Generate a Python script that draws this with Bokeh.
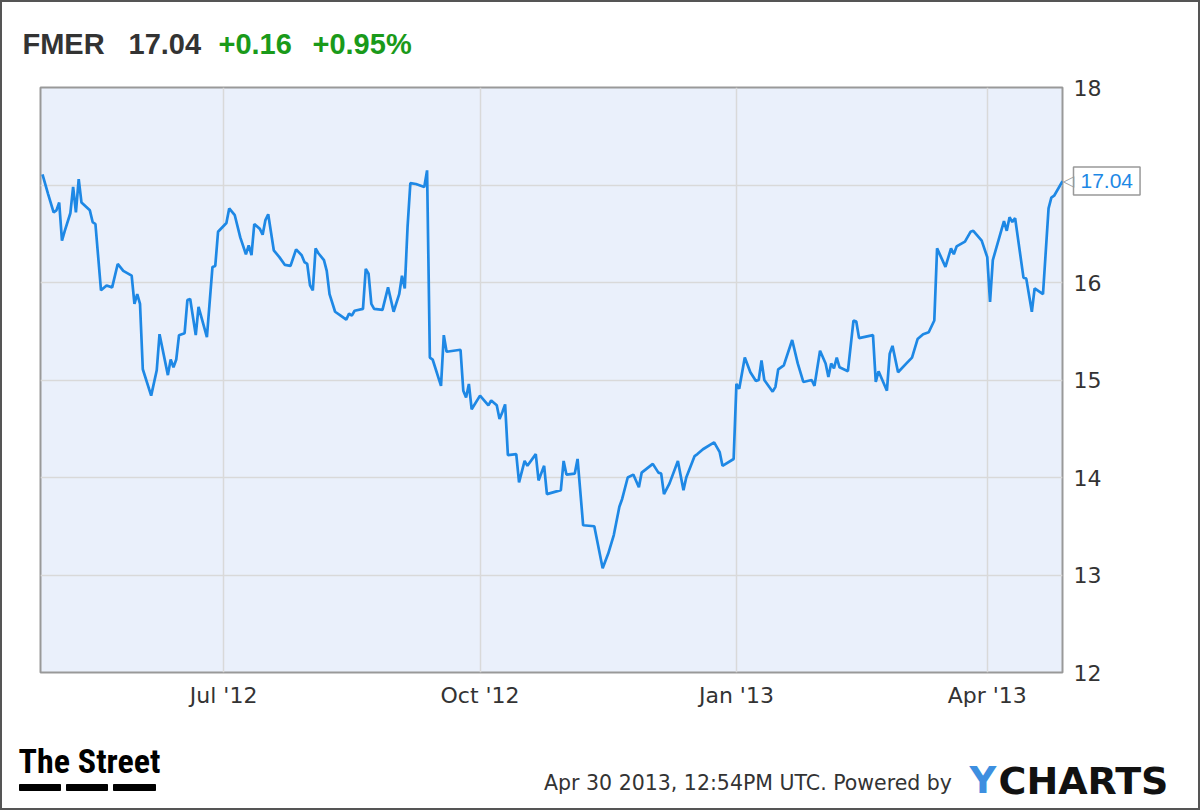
from datetime import timedelta
import pandas as pd
from bokeh.plotting import figure
from bokeh.layouts import column
from bokeh.core.properties import value
from bokeh.models import (Range1d, Label, MonthsTicker, DatetimeTickFormatter, FixedTicker)
from bokeh.embed import file_html
from bokeh.resources import INLINE

# ---------------- data ----------------
ticker = "FMER"
last_price_text = "17.04"
change_text = "+0.16"
change_pct_text = "+0.95%"
timestamp_text = "Apr 30 2013, 12:54PM UTC.  Powered by"

dates = [
    "2012-04-27", "2012-04-29", "2012-05-01", "2012-05-02", "2012-05-03", "2012-05-04",
    "2012-05-05", "2012-05-07", "2012-05-08", "2012-05-09", "2012-05-10", "2012-05-11",
    "2012-05-14", "2012-05-15", "2012-05-16", "2012-05-18", "2012-05-20", "2012-05-22",
    "2012-05-24", "2012-05-26", "2012-05-29", "2012-05-30", "2012-05-31", "2012-06-01",
    "2012-06-02", "2012-06-05", "2012-06-07", "2012-06-08", "2012-06-11", "2012-06-12",
    "2012-06-13", "2012-06-14", "2012-06-15", "2012-06-17", "2012-06-18", "2012-06-19",
    "2012-06-21", "2012-06-22", "2012-06-25", "2012-06-27", "2012-06-28", "2012-06-29",
    "2012-07-02", "2012-07-03", "2012-07-05", "2012-07-07", "2012-07-09", "2012-07-10",
    "2012-07-11", "2012-07-12", "2012-07-14", "2012-07-15", "2012-07-16", "2012-07-17",
    "2012-07-19", "2012-07-21", "2012-07-23", "2012-07-25", "2012-07-27", "2012-07-29",
    "2012-07-30", "2012-07-31", "2012-08-01", "2012-08-02", "2012-08-03", "2012-08-04",
    "2012-08-06", "2012-08-07", "2012-08-08", "2012-08-10", "2012-08-12", "2012-08-14",
    "2012-08-15", "2012-08-16", "2012-08-17", "2012-08-20", "2012-08-21", "2012-08-22",
    "2012-08-23", "2012-08-24", "2012-08-27", "2012-08-29", "2012-08-31", "2012-09-02",
    "2012-09-03", "2012-09-04", "2012-09-05", "2012-09-06", "2012-09-08", "2012-09-11",
    "2012-09-12", "2012-09-13", "2012-09-14", "2012-09-17", "2012-09-18", "2012-09-19",
    "2012-09-24", "2012-09-25", "2012-09-26", "2012-09-27", "2012-09-28", "2012-10-01",
    "2012-10-04", "2012-10-05", "2012-10-07", "2012-10-08", "2012-10-09", "2012-10-10",
    "2012-10-11", "2012-10-14", "2012-10-15", "2012-10-17", "2012-10-18", "2012-10-21",
    "2012-10-22", "2012-10-24", "2012-10-25", "2012-10-30", "2012-10-31", "2012-11-01",
    "2012-11-04", "2012-11-05", "2012-11-07", "2012-11-11", "2012-11-14", "2012-11-16",
    "2012-11-18", "2012-11-20", "2012-11-21", "2012-11-23", "2012-11-25", "2012-11-27",
    "2012-11-28", "2012-12-02", "2012-12-04", "2012-12-05", "2012-12-06", "2012-12-08",
    "2012-12-11", "2012-12-13", "2012-12-14", "2012-12-17", "2012-12-18", "2012-12-20",
    "2012-12-24", "2012-12-26", "2012-12-27", "2012-12-31", "2013-01-01", "2013-01-02",
    "2013-01-04", "2013-01-06", "2013-01-08", "2013-01-09", "2013-01-10", "2013-01-11",
    "2013-01-14", "2013-01-15", "2013-01-16", "2013-01-18", "2013-01-21", "2013-01-23",
    "2013-01-25", "2013-01-28", "2013-01-29", "2013-01-31", "2013-02-02", "2013-02-03",
    "2013-02-04", "2013-02-05", "2013-02-06", "2013-02-07", "2013-02-10", "2013-02-12",
    "2013-02-13", "2013-02-14", "2013-02-19", "2013-02-20", "2013-02-21", "2013-02-24",
    "2013-02-25", "2013-02-26", "2013-02-28", "2013-03-03", "2013-03-05", "2013-03-07",
    "2013-03-09", "2013-03-11", "2013-03-13", "2013-03-14", "2013-03-17", "2013-03-19",
    "2013-03-20", "2013-03-21", "2013-03-24", "2013-03-26", "2013-03-27", "2013-03-30",
    "2013-04-01", "2013-04-02", "2013-04-03", "2013-04-07", "2013-04-08", "2013-04-09",
    "2013-04-10", "2013-04-11", "2013-04-14", "2013-04-15", "2013-04-17", "2013-04-18",
    "2013-04-21", "2013-04-23", "2013-04-24", "2013-04-25", "2013-04-28",
]

prices = [
    17.11, 16.91, 16.72, 16.74, 16.82, 16.43,
    16.53, 16.71, 16.98, 16.72, 17.06, 16.82,
    16.74, 16.62, 16.60, 15.92, 15.97, 15.95,
    16.19, 16.12, 16.07, 15.78, 15.88, 15.78,
    15.11, 14.84, 15.10, 15.47, 15.05, 15.21,
    15.13, 15.21, 15.46, 15.48, 15.82, 15.83,
    15.46, 15.75, 15.44, 16.16, 16.17, 16.52,
    16.61, 16.76, 16.69, 16.46, 16.29, 16.38,
    16.28, 16.60, 16.55, 16.49, 16.64, 16.70,
    16.33, 16.26, 16.18, 16.17, 16.34, 16.28,
    16.21, 16.19, 15.97, 15.92, 16.35, 16.30,
    16.23, 16.12, 15.88, 15.70, 15.66, 15.62,
    15.68, 15.66, 15.71, 15.73, 16.14, 16.09,
    15.78, 15.73, 15.72, 15.95, 15.70, 15.88,
    16.07, 15.94, 16.57, 17.02, 17.01, 16.98,
    17.15, 15.23, 15.21, 14.94, 15.46, 15.29,
    15.31, 14.89, 14.82, 14.96, 14.70, 14.84,
    14.74, 14.79, 14.74, 14.60, 14.67, 14.75,
    14.23, 14.24, 13.95, 14.17, 14.12, 14.24,
    13.97, 14.12, 13.83, 13.87, 14.17, 14.03,
    14.04, 14.19, 13.51, 13.50, 13.07, 13.22,
    13.41, 13.70, 13.78, 14.00, 14.03, 13.90,
    14.05, 14.14, 14.05, 14.04, 13.83, 13.94,
    14.17, 13.87, 14.00, 14.22, 14.24, 14.29,
    14.36, 14.26, 14.12, 14.19, 14.96, 14.91,
    15.23, 15.08, 14.99, 15.00, 15.20, 15.00,
    14.88, 14.93, 15.11, 15.15, 15.41, 15.17,
    14.98, 15.00, 14.94, 15.30, 15.17, 15.03,
    15.17, 15.12, 15.23, 15.13, 15.09, 15.61,
    15.60, 15.43, 15.46, 14.98, 15.09, 14.89,
    15.27, 15.35, 15.08, 15.17, 15.23, 15.42,
    15.47, 15.49, 15.61, 16.35, 16.16, 16.35,
    16.29, 16.37, 16.42, 16.52, 16.53, 16.43,
    16.26, 15.80, 16.23, 16.63, 16.53, 16.67,
    16.62, 16.66, 16.05, 16.04, 15.70, 15.94,
    15.88, 16.76, 16.87, 16.89, 17.04,
]

y_ticks = [12, 13, 14, 15, 16, 17, 18]
quarter_months = [0, 3, 6, 9]  # Jan, Apr, Jul, Oct (0-based)

# ---------------- styling constants ----------------
LINE_COLOR = "#1e88e5"
FRAME_FILL = "#eaf0fb"
GRID_COLOR = "#d9d9d9"
GREEN = "#1a9a1a"
DARK = "#333333"
EDGE = 2                      # outer border of the whole picture
W = 1200 - 2 * EDGE
HEADER_H, MAIN_H, FOOTER_H = 68, 670, 68
MAIN_TOP = EDGE + HEADER_H    # absolute y where the main chart starts
FOOT_TOP = MAIN_TOP + MAIN_H  # absolute y where the footer starts


def no_align(f):
    try:
        f.frame_align = False
    except AttributeError:
        pass


def blank_fig(height, y_top):
    # coordinates inside equal absolute picture pixels
    f = figure(width=W, height=height, title=None,
               x_range=Range1d(EDGE, EDGE + W), y_range=Range1d(y_top + height, y_top),
               output_backend="svg", toolbar_location=None,
               x_axis_location=None, y_axis_location=None,
               min_border=0, min_border_left=0, min_border_right=0,
               min_border_top=0, min_border_bottom=0)
    f.grid.visible = False
    f.outline_line_color = None
    f.background_fill_color = "white"
    f.border_fill_color = "white"
    no_align(f)
    return f


def put_text(f, tx, ty, txt, color, size, font="Liberation Sans", style="normal",
             align="left"):
    f.text(x=[tx], y=[ty], text=[txt], text_color=color, text_font=value(font),
           text_font_size=size, text_font_style=style, text_align=align,
           text_baseline="middle")


# ---------------- header ----------------
header = blank_fig(HEADER_H, EDGE)
put_text(header, 22, 43, ticker, DARK, "29px", style="bold")
put_text(header, 128, 43, last_price_text, DARK, "29px", style="bold")
put_text(header, 218, 43, change_text, GREEN, "29px", style="bold")
put_text(header, 312, 43, change_pct_text, GREEN, "29px", style="bold")

# ---------------- main chart ----------------
x = pd.to_datetime(dates)
y = prices

p = figure(width=W, height=MAIN_H, x_axis_type="datetime", y_axis_location="right",
           output_backend="svg", toolbar_location=None, title=None,
           min_border_left=40 - EDGE, min_border_top=87 - MAIN_TOP,
           min_border_right=W - (1062 - 40) - (40 - EDGE),
           min_border_bottom=MAIN_H - (87 - MAIN_TOP) - (672 - 87))
no_align(p)

p.x_range = Range1d(start=x[0] - timedelta(hours=17), end=x[-1])
p.y_range = Range1d(start=y_ticks[0], end=y_ticks[-1])

p.background_fill_color = FRAME_FILL
p.border_fill_color = "white"
p.outline_line_color = "#999999"
p.outline_line_width = 2

p.line(x, y, line_color=LINE_COLOR, line_width=2.7)

p.xaxis.ticker = MonthsTicker(months=quarter_months)
p.xaxis.formatter = DatetimeTickFormatter(months="%b '%y", days="%b '%y")
p.yaxis.ticker = FixedTicker(ticks=y_ticks)
for ax in (p.xaxis[0], p.yaxis[0]):
    ax.axis_line_color = None
    ax.major_tick_line_color = None
    ax.minor_tick_line_color = None
    ax.major_label_text_font = "DejaVu Sans"
    ax.major_label_text_font_size = "22px"
    ax.major_label_text_color = DARK
p.xaxis.major_label_standoff = 4
p.yaxis.major_label_standoff = 5
p.xgrid.ticker = MonthsTicker(months=quarter_months)
p.xgrid.grid_line_color = GRID_COLOR
p.xgrid.grid_line_width = 1.5
p.ygrid.grid_line_color = GRID_COLOR
p.ygrid.grid_line_width = 1.5

# callout of last value, placed in the right side panel (not clipped by the frame)
p.add_layout(Label(x=x[-1], y=y[-1], text=last_price_text, x_offset=11,
                   text_color=LINE_COLOR, text_font="Liberation Sans", text_font_size="21px",
                   text_baseline="middle", background_fill_color="white",
                   border_line_color="#999999", border_line_width=1.5, padding=7), "right")
p.add_layout(Label(x=x[-1], y=y[-1], text="\u25c1", x_offset=0,
                   text_color="#999999", text_font="DejaVu Sans", text_font_size="15px",
                   text_baseline="middle"), "right")

# ---------------- footer ----------------
footer = blank_fig(FOOTER_H, FOOT_TOP)
put_text(footer, 18, 760, "The Street", "black", "34px",
         font="'Roboto Condensed', 'DejaVu Sans Condensed', 'Liberation Sans Narrow', 'Liberation Sans'",
         style="bold")
logo_bar_left = [19, 66, 113]
logo_bar_right = [60, 107, 155]
footer.quad(left=logo_bar_left, right=logo_bar_right, top=[784] * 3, bottom=[790] * 3,
            color="black")
put_text(footer, 958, 782, timestamp_text, DARK, "20.5px", font="DejaVu Sans", align="right")
put_text(footer, 969, 780, "Y", "#3d8fe0", "37px", font="DejaVu Sans", style="bold")
put_text(footer, 998, 780, "CHARTS", "#111111", "38px", font="DejaVu Sans", style="bold")

page = column(header, p, footer, spacing=0,
              styles={"border": f"{EDGE}px solid #555555", "box-sizing": "content-box"})

open("out.html", "w").write(file_html(page, INLINE))
